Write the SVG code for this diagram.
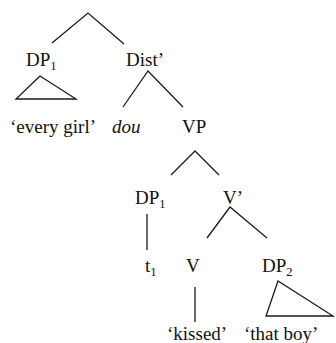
<svg xmlns="http://www.w3.org/2000/svg" width="336" height="343" viewBox="0 0 336 343">
  <style>
    text { font-family: 'Liberation Serif', 'Times New Roman', serif; font-size: 19px; fill: #111; }
    .it { font-style: italic; }
    .sub { font-size: 12.5px; }
    .edge { stroke: #1a1a1a; stroke-width: 1.3; fill: none; stroke-linejoin: miter; }
  </style>
  <rect width="336" height="343" fill="#fff"/>

  <!-- branches -->
  <g id="connectors">
    <polyline class="edge" points="52,43 88,13 124,44"/>
    <polygon class="edge" points="40,76 16,99 76,99"/>
    <polyline class="edge" points="123,107 148,71 183,107"/>
    <polyline class="edge" points="171,175 195,151 219,175"/>
    <line class="edge" x1="147" y1="214" x2="147" y2="250"/>
    <polyline class="edge" points="207,238 230,207 267,238"/>
    <line class="edge" x1="195" y1="287" x2="195" y2="322"/>
    <polygon class="edge" points="278,281 266,316 333,316"/>
  </g>

  <!-- nodes -->
  <g id="dp1-top"><text x="26" y="66">DP<tspan class="sub" dy="4">1</tspan></text></g>
  <g id="dist-bar"><text x="126" y="66">Dist’</text></g>
  <g id="every-girl"><text x="10" y="133">‘every girl’</text></g>
  <g id="dou"><text class="it" x="112" y="133">dou</text></g>
  <g id="vp"><text x="182" y="133">VP</text></g>
  <g id="dp1-low"><text x="135" y="204">DP<tspan class="sub" dy="4">1</tspan></text></g>
  <g id="v-bar"><text x="223" y="204">V’</text></g>
  <g id="trace"><text x="145" y="272">t<tspan class="sub" dy="4">1</tspan></text></g>
  <g id="v"><text x="186" y="272">V</text></g>
  <g id="dp2"><text x="262" y="272">DP<tspan class="sub" dy="4">2</tspan></text></g>
  <g id="kissed"><text x="167" y="340">‘kissed’</text></g>
  <g id="that-boy"><text x="244" y="340">‘that boy’</text></g>
</svg>
